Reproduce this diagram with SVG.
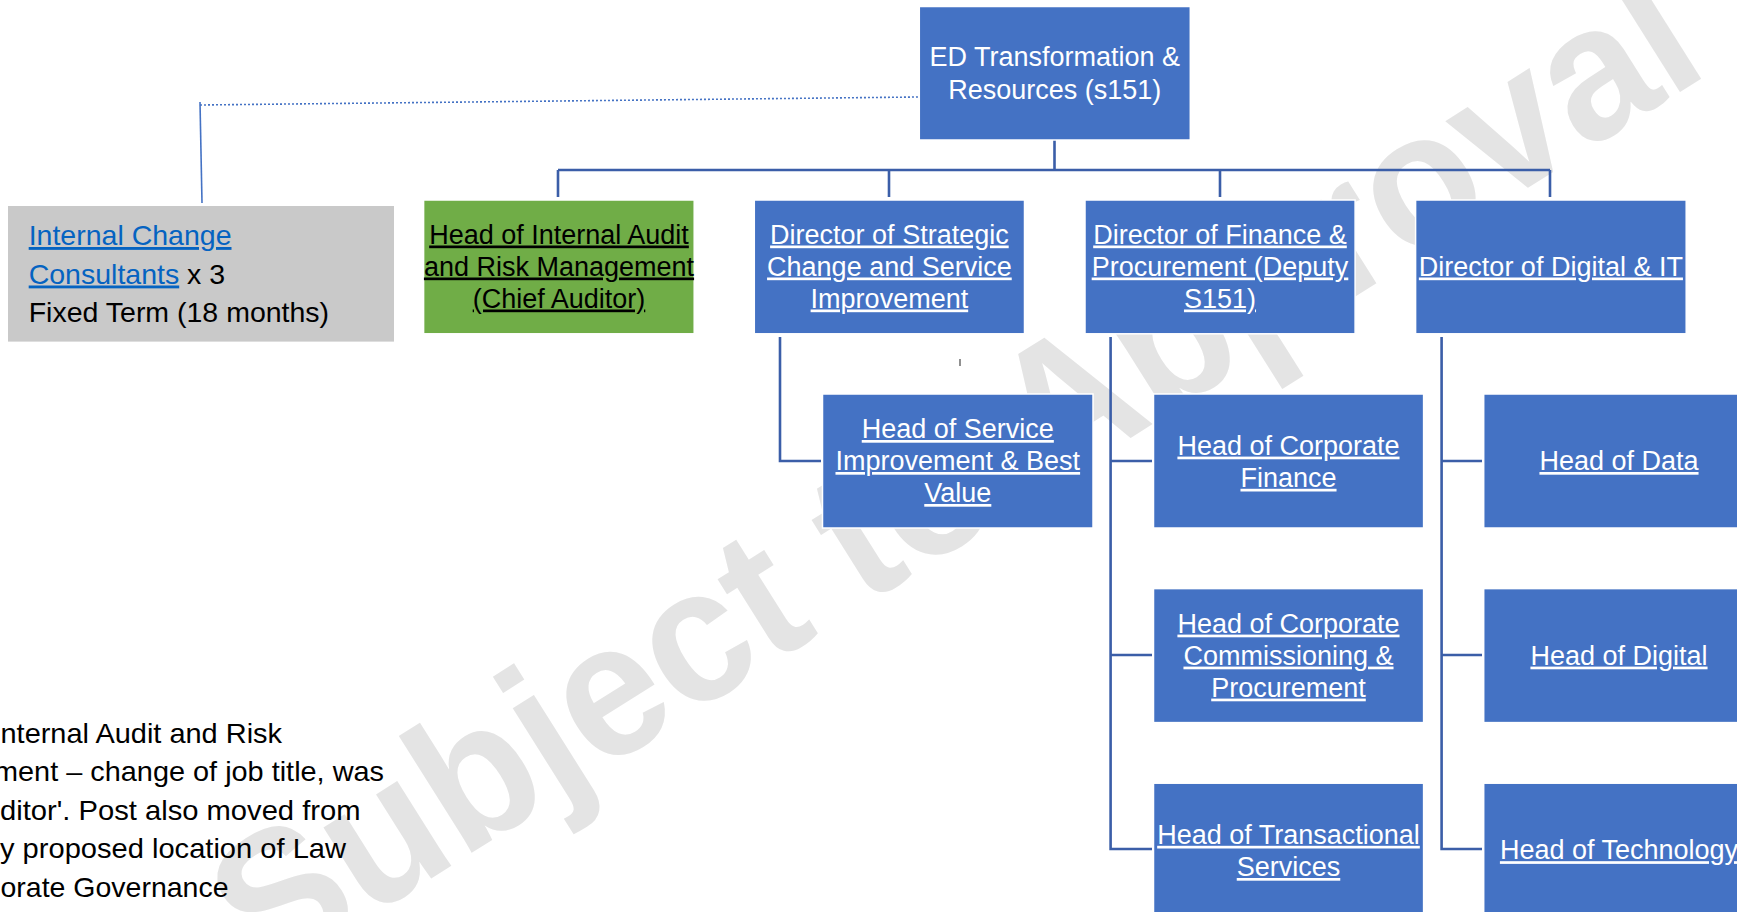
<svg xmlns="http://www.w3.org/2000/svg" width="1737" height="912" viewBox="0 0 1737 912">
<style>
  .box { fill: #4472C4; stroke: #ffffff; stroke-width: 1.5; }
  .green { fill: #70AD47; stroke: #ffffff; stroke-width: 1.5; }
  .grey { fill: #C9C9C9; }
  .t { font-family: 'Liberation Sans', Arial, sans-serif; font-size: 27px; text-anchor: middle; }
  .w { fill: #ffffff; }
  .u { text-decoration: underline; }
  .k { fill: #000000; }
  .note { font-family: 'Liberation Sans', Arial, sans-serif; font-size: 28.5px; fill: #000000; }
  .link { fill: #0563C1; text-decoration: underline; }
  .conn { fill: none; stroke: #3B5EA8; stroke-width: 2.6; }
  .wm { font-family: 'Liberation Sans', Arial, sans-serif; font-weight: bold; font-size: 190px; fill: #E4E4E4; }
</style>

<g id="watermark">
  <text class="wm" transform="translate(265,983) rotate(-32.2)" x="0" y="0" textLength="1710" lengthAdjust="spacingAndGlyphs">Subject to Approval</text>
</g>

<g id="connectors">
  <path class="conn" d="M1054.5 140 V170 M558 170 H1550 M558 170 V197 M889 170 V197 M1220 170 V197 M1550 170 V197"/>
  <path class="conn" d="M780 337 V461 H821"/>
  <path class="conn" d="M1110.6 337 V849 H1152 M1110.6 461 H1152 M1110.6 655 H1152"/>
  <path class="conn" d="M1441.6 337 V849 H1482 M1441.6 461 H1482 M1441.6 655 H1482"/>
  <path d="M200 105 L918 97" fill="none" stroke="#4472C4" stroke-width="1.6" stroke-dasharray="2 2"/>
  <path d="M200 102 L202 203" fill="none" stroke="#4472C4" stroke-width="1.6"/>
  <path d="M960 359 V366" stroke="#555555" stroke-width="1.3"/>
</g>

<g id="ed">
  <rect class="box" x="919.3" y="6.5" width="271" height="133.5"/>
  <text class="t w" x="1054.8" y="65.8">ED Transformation &amp;</text>
  <text class="t w" x="1054.8" y="98.7">Resources (s151)</text>
</g>

<g id="consultants">
  <rect class="grey" x="8" y="206" width="386" height="135.6"/>
  <text class="note" x="28.7" y="245"><tspan class="link">Internal Change</tspan></text>
  <text class="note" x="28.7" y="283.5"><tspan class="link">Consultants</tspan><tspan> x 3</tspan></text>
  <text class="note" x="28.7" y="321.7">Fixed Term (18 months)</text>
</g>

<g id="internal-audit">
  <rect class="green" x="423.6" y="200" width="270.6" height="133.8"/>
  <text class="t k u" x="559" y="243.5">Head of Internal Audit</text>
  <text class="t k u" x="559" y="275.5">and Risk Management</text>
  <text class="t k u" x="559" y="307.5">(Chief Auditor)</text>
</g>

<g id="dir-strategic">
  <rect class="box" x="754.3" y="200" width="270.2" height="133.8"/>
  <text class="t w u" x="889.4" y="243.5">Director of Strategic</text>
  <text class="t w u" x="889.4" y="275.5">Change and Service</text>
  <text class="t w u" x="889.4" y="307.5">Improvement</text>
</g>

<g id="dir-finance">
  <rect class="box" x="1085" y="200" width="270.1" height="133.8"/>
  <text class="t w u" x="1220" y="243.5">Director of Finance &amp;</text>
  <text class="t w u" x="1220" y="275.5">Procurement (Deputy</text>
  <text class="t w u" x="1220" y="307.5">S151)</text>
</g>

<g id="dir-digital">
  <rect class="box" x="1415.6" y="200" width="270.6" height="133.8"/>
  <text class="t w u" x="1550.9" y="275.5">Director of Digital &amp; IT</text>
</g>

<g id="head-service">
  <rect class="box" x="822.5" y="394" width="270.5" height="134"/>
  <text class="t w u" x="957.8" y="438">Head of Service</text>
  <text class="t w u" x="957.8" y="470">Improvement &amp; Best</text>
  <text class="t w u" x="957.8" y="502">Value</text>
</g>

<g id="head-corp-finance">
  <rect class="box" x="1153.5" y="394" width="270.1" height="134"/>
  <text class="t w u" x="1288.5" y="454.6">Head of Corporate</text>
  <text class="t w u" x="1288.5" y="486.8">Finance</text>
</g>

<g id="head-data">
  <rect class="box" x="1483.7" y="394" width="270.5" height="134"/>
  <text class="t w u" x="1619" y="470">Head of Data</text>
</g>

<g id="head-commissioning">
  <rect class="box" x="1153.5" y="588.6" width="270.1" height="134"/>
  <text class="t w u" x="1288.5" y="632.6">Head of Corporate</text>
  <text class="t w u" x="1288.5" y="664.6">Commissioning &amp;</text>
  <text class="t w u" x="1288.5" y="696.6">Procurement</text>
</g>

<g id="head-digital">
  <rect class="box" x="1483.7" y="588.6" width="270.5" height="134"/>
  <text class="t w u" x="1619" y="664.6">Head of Digital</text>
</g>

<g id="head-transactional">
  <rect class="box" x="1153.5" y="783.2" width="270.1" height="134"/>
  <text class="t w u" x="1288.5" y="843.8">Head of Transactional</text>
  <text class="t w u" x="1288.5" y="876">Services</text>
</g>

<g id="head-technology">
  <rect class="box" x="1483.7" y="783.2" width="270.5" height="134"/>
  <text class="t w u" x="1619" y="859.2">Head of Technology</text>
</g>

<g id="note-text">
  <text class="note" x="0.5" y="742.5" textLength="281.5" lengthAdjust="spacingAndGlyphs">nternal Audit and Risk</text>
  <text class="note" x="-6" y="781" textLength="390" lengthAdjust="spacingAndGlyphs">ment – change of job title, was</text>
  <text class="note" x="0" y="819.5" textLength="360.5" lengthAdjust="spacingAndGlyphs">ditor'. Post also moved from</text>
  <text class="note" x="0" y="858" textLength="346" lengthAdjust="spacingAndGlyphs">y proposed location of Law</text>
  <text class="note" x="0.5" y="896.5" textLength="228" lengthAdjust="spacingAndGlyphs">orate Governance</text>
</g>
</svg>
